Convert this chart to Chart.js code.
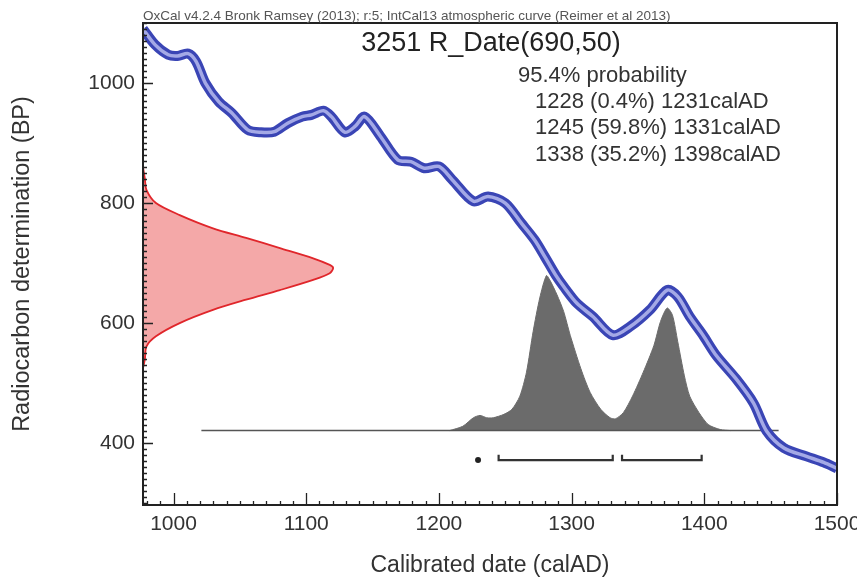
<!DOCTYPE html>
<html><head><meta charset="utf-8">
<script src="https://cdn.jsdelivr.net/npm/chart.js@4.4.0/dist/chart.umd.min.js"></script>
<style>html,body{margin:0;padding:0;background:#fff;}#wrap{width:857px;height:580px;}</style>
</head><body><div id="wrap"><canvas id="c" width="857" height="580"></canvas></div>
<script>
// ---- data ----
const curveYears = [977,986,996,1003,1011,1017,1024,1034,1044,1056,1066,1076,1086,1097,1104,1113,1119,1129,1137,1144,1156,1169,1179,1189,1200,1210,1226,1237,1250,1262,1272,1280,1288,1294,1304,1316,1331,1344,1359,1372,1380,1389,1399,1409,1424,1437,1447,1460,1477,1490,1500];
const curveBP    = [1090,1064,1047,1045,1049,1036,1000,969,950,922,918,919,933,944,947,954,944,918,928,944,911,872,869,858,861,839,803,811,800,767,739,710,680,661,633,611,580,594,622,655,644,611,580,546,507,467,420,392,378,368,358];

const likelihoodBP   = [860,840,822,800,780,758,742,725,708,697,692,683,672,655,639,622,600,578,561,540,525];
const likelihoodProb = [0,0.01,0.018,0.068,0.193,0.368,0.542,0.72,0.895,0.982,1.0,0.982,0.895,0.72,0.542,0.368,0.193,0.068,0.018,0.01,0];

const calYears = [1208,1218,1226,1231,1236,1241,1249,1255,1261,1266,1271,1276,1281,1284,1289,1294,1299,1307,1314,1322,1329,1333,1339,1346,1354,1362,1367,1372,1376,1380,1385,1389,1396,1403,1412,1420];
const calProb  = [0,0.028,0.083,0.098,0.083,0.083,0.105,0.137,0.222,0.377,0.639,0.856,1.0,0.965,0.876,0.769,0.614,0.399,0.246,0.137,0.083,0.076,0.116,0.224,0.377,0.549,0.704,0.791,0.745,0.573,0.353,0.222,0.116,0.039,0.007,0];

const baselineYears = [1021, 1456];
const rangeStarts = [1228, 1245, 1338];
const rangeEnds   = [1231, 1331, 1398];
const rangeTexts  = ['1228 (0.4%) 1231calAD', '1245 (59.8%) 1331calAD', '1338 (35.2%) 1398calAD'];
const probText = '95.4% probability';
const titleText = '3251 R_Date(690,50)';
const headerText = 'OxCal v4.2.4 Bronk Ramsey (2013); r:5; IntCal13 atmospheric curve (Reimer et al 2013)';

const xTickLabels = [1000, 1100, 1200, 1300, 1400, 1500];
const yTickLabels = [400, 600, 800, 1000];
const xMinorStep = 10, yMinorStep = 10;

// ---- style constants ----
const FONT = "'Liberation Sans', Arial, sans-serif";
const BRACKET_LEVEL = -0.19, BRACKET_TIP = -0.155;

const curvePts = curveYears.map((x, i) => ({x, y: curveBP[i]}));
const likePts = likelihoodBP.map((y, i) => ({x: likelihoodProb[i], y}));
const calPts = calYears.map((x, i) => ({x, y: calProb[i]}));
const basePts = baselineYears.map(x => ({x, y: 0}));
const bracketPts = [];
rangeStarts.forEach((s, i) => {
  const e = rangeEnds[i];
  if (e - s < 6) {
    bracketPts.push({x: (s + e) / 2, y: BRACKET_LEVEL, dot: true}, {x: e, y: null});
  } else {
    bracketPts.push({x: s, y: BRACKET_TIP}, {x: s, y: BRACKET_LEVEL}, {x: e, y: BRACKET_LEVEL}, {x: e, y: BRACKET_TIP}, {x: e, y: null});
  }
});

const framePlugin = {
  id: 'frame',
  afterDraw(chart) {
    const {ctx, chartArea: a, scales} = chart;
    const sx = scales.x, sy = scales.y;
    ctx.save();
    ctx.strokeStyle = '#222';
    ctx.lineWidth = 2;
    ctx.strokeRect(a.left, a.top, a.right - a.left, a.bottom - a.top);
    ctx.lineWidth = 1.3;
    ctx.beginPath();
    for (let v = Math.ceil(sx.min / xMinorStep) * xMinorStep; v <= sx.max; v += xMinorStep) {
      const px = Math.round(sx.getPixelForValue(v)) + 0.5;
      const len = xTickLabels.includes(v) ? 12 : 4;
      ctx.moveTo(px, a.bottom); ctx.lineTo(px, a.bottom - len);
    }
    for (let v = Math.ceil(sy.min / yMinorStep) * yMinorStep; v <= sy.max; v += yMinorStep) {
      const py = Math.round(sy.getPixelForValue(v)) + 0.5;
      const len = yTickLabels.includes(v) ? 10 : 4;
      ctx.moveTo(a.left, py); ctx.lineTo(a.left + len, py);
    }
    ctx.stroke();
    // texts
    ctx.fillStyle = '#555';
    ctx.font = '13.5px ' + FONT;
    ctx.textAlign = 'left'; ctx.textBaseline = 'alphabetic';
    ctx.fillText(headerText, a.left, 20);
    ctx.fillStyle = '#222';
    ctx.font = '27px ' + FONT;
    ctx.textAlign = 'center';
    ctx.fillText(titleText, 491, 51);
    ctx.textAlign = 'left';
    ctx.font = '22px ' + FONT;
    ctx.fillStyle = '#333';
    ctx.fillText(probText, 518, 82);
    rangeTexts.forEach((t, i) => ctx.fillText(t, 535, 107.5 + i * 26.8));
    ctx.restore();
  }
};

new Chart(document.getElementById('c'), {
  type: 'line',
  data: {
    datasets: [
      {data: curvePts, xAxisID: 'x', yAxisID: 'y', borderColor: '#a4a9e6', borderWidth: 3.5, pointRadius: 0, tension: 0.3, fill: false, order: 0},
      {data: curvePts, xAxisID: 'x', yAxisID: 'y', borderColor: '#3a45b5', borderWidth: 10, pointRadius: 0, tension: 0.3, fill: false, order: 1},
      {data: bracketPts, xAxisID: 'x', yAxisID: 'yp', borderColor: '#333', backgroundColor: '#222', borderWidth: 2.2, pointBorderWidth: 0,
       pointRadius: c => (c.raw && c.raw.dot ? 3 : 0), tension: 0, spanGaps: false, fill: false, order: 2},
      {data: basePts, xAxisID: 'x', yAxisID: 'yp', borderColor: '#555', borderWidth: 1.5, pointRadius: 0, fill: false, order: 3},
      {data: calPts, xAxisID: 'x', yAxisID: 'yp', borderColor: '#6b6b6b', backgroundColor: '#6b6b6b', borderWidth: 1, pointRadius: 0, tension: 0.25, fill: 'origin', order: 4},
      {data: likePts, xAxisID: 'xp', yAxisID: 'y', borderColor: '#e0262b', backgroundColor: 'rgba(243,158,158,0.9)', borderWidth: 1.8, pointRadius: 0, tension: 0.3, fill: 'shape', order: 5}
    ]
  },
  options: {
    responsive: false, animation: false, devicePixelRatio: 1,
    layout: {padding: {top: 23, right: 20, left: 0, bottom: 0}},
    plugins: {legend: {display: false}, tooltip: {enabled: false}},
    scales: {
      x: {
        type: 'linear', position: 'bottom', min: 977, max: 1500,
        afterBuildTicks: s => { s.ticks = xTickLabels.map(v => ({value: v})); },
        afterFit: s => { s.height = 75; s.paddingLeft = 0; s.paddingRight = 0; },
        grid: {display: false, drawTicks: false}, border: {display: false},
        ticks: {font: {family: FONT, size: 21}, color: '#333', padding: 7, maxRotation: 0, autoSkip: false, callback: v => String(v)},
        title: {display: true, text: 'Calibrated date (calAD)', font: {family: FONT, size: 23}, color: '#333', padding: {top: 0, bottom: 1}}
      },
      y: {
        type: 'linear', position: 'left', min: 297, max: 1100,
        afterBuildTicks: s => { s.ticks = yTickLabels.map(v => ({value: v})); },
        afterFit: s => { s.width = 143; s.paddingTop = 0; s.paddingBottom = 0; },
        grid: {display: false, drawTicks: false}, border: {display: false},
        ticks: {font: {family: FONT, size: 21}, color: '#333', padding: 8, autoSkip: false, callback: v => String(v)},
        title: {display: true, text: 'Radiocarbon determination (BP)', font: {family: FONT, size: 23.5}, color: '#333', padding: {top: 8, bottom: 0}}
      },
      xp: {type: 'linear', position: 'bottom', display: false, min: 0, max: 3.65},
      yp: {type: 'linear', position: 'left', display: false, min: -0.48, max: 2.63}
    }
  },
  plugins: [framePlugin]
});
</script></body></html>
